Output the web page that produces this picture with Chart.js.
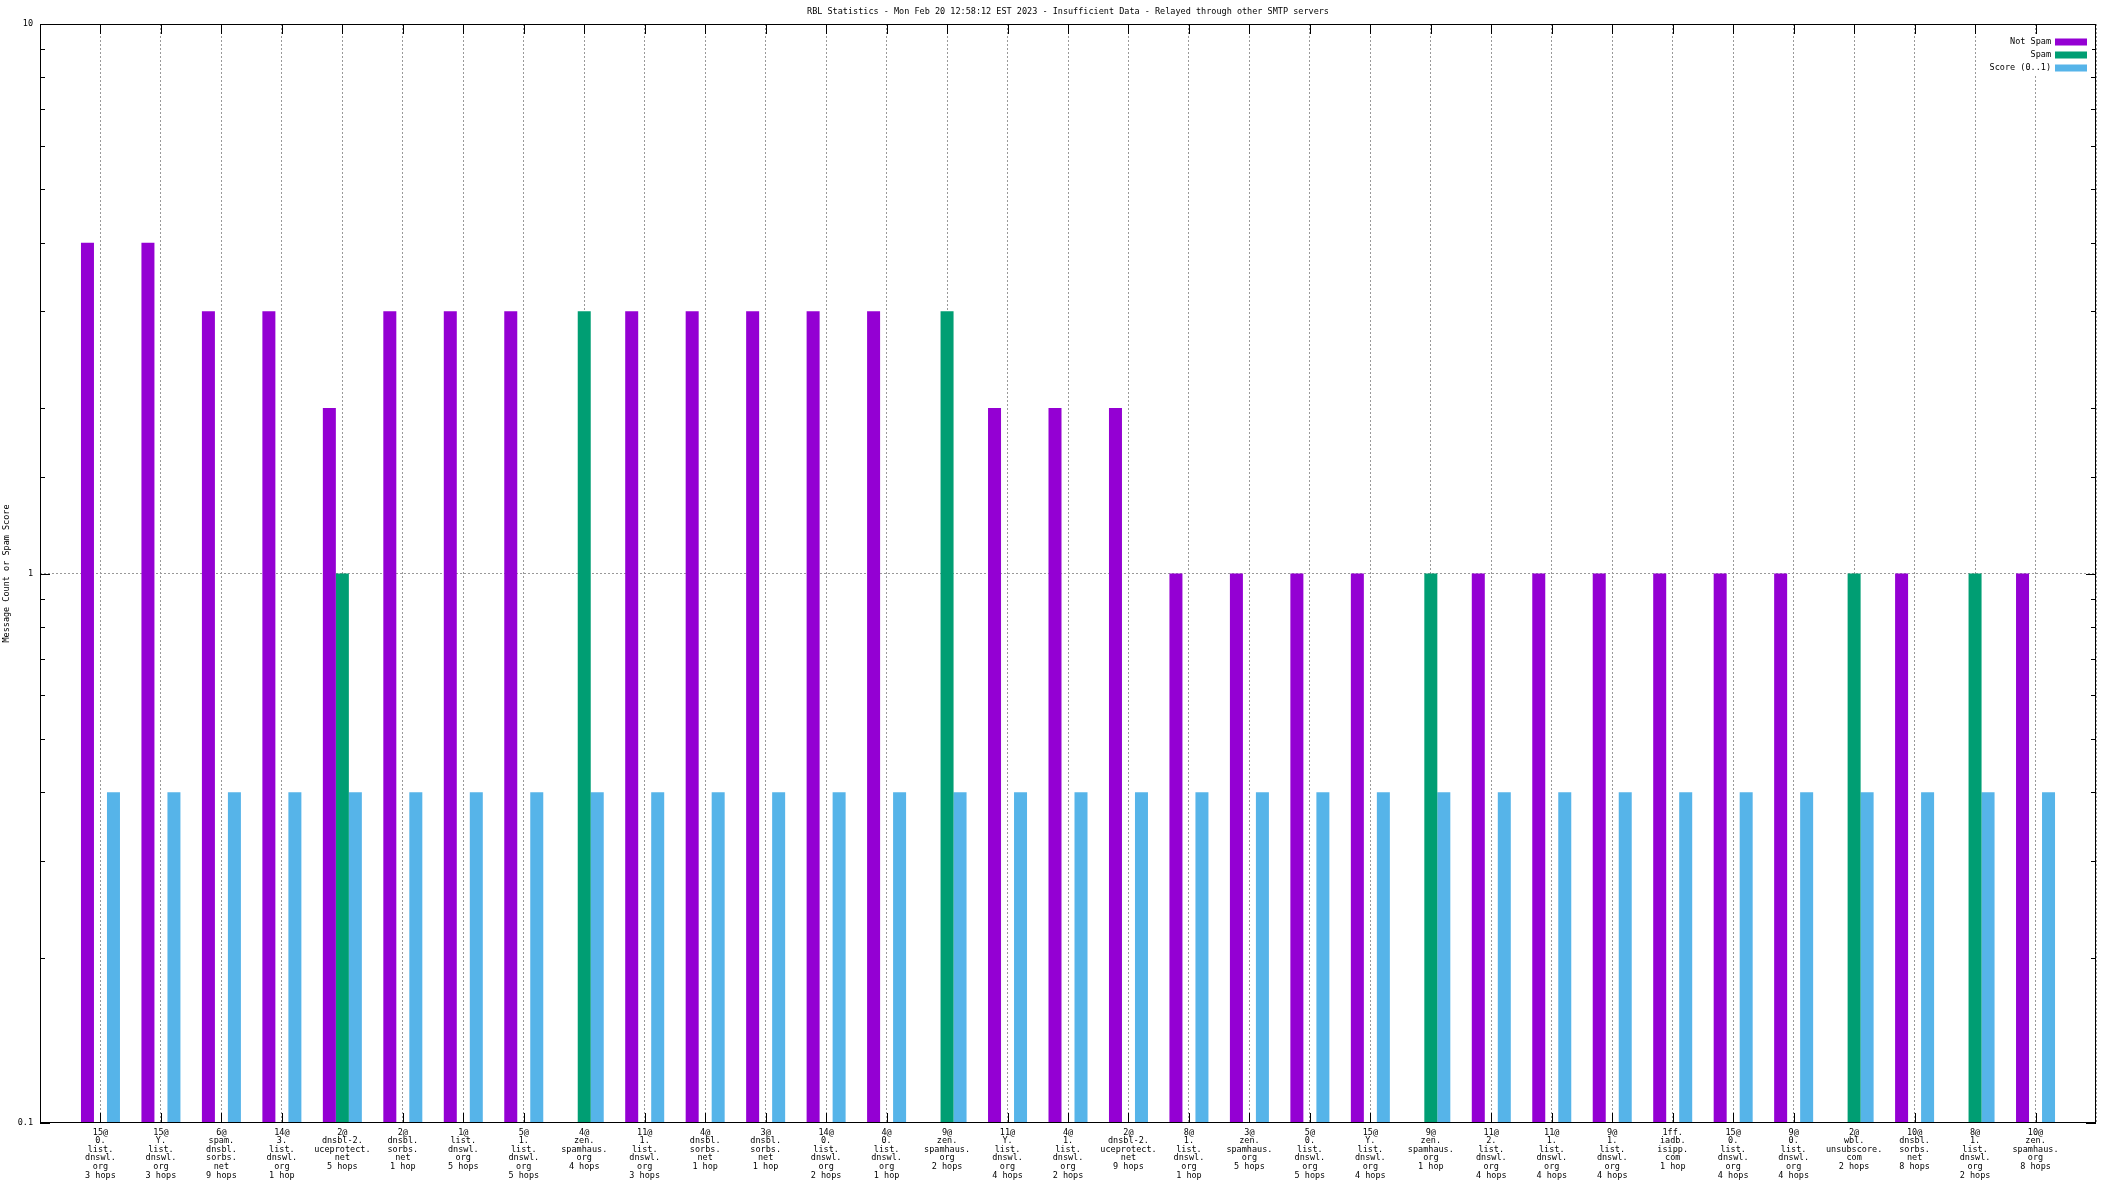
<!DOCTYPE html>
<html>
<head>
<meta charset="utf-8">
<title>RBL Statistics</title>
<script src="https://cdn.jsdelivr.net/npm/chart.js@4.4.1/dist/chart.umd.min.js"></script>
<style>
  html, body { margin: 0; padding: 0; background: #fff; }
  canvas { display: block; }
</style>
</head>
<body>
<canvas id="rblChart" width="2112" height="1188"></canvas>
<script>
const chartTitle = "RBL Statistics - Mon Feb 20 12:58:12 EST 2023 - Insufficient Data - Relayed through other SMTP servers";
const yAxisTitle = "Message Count or Spam Score";
const seriesNames = ["Not Spam", "Spam", "Score (0..1)"];
const color_palette = ["#9400d3", "#009e73", "#56b4e9"];
const yTickLabels = [0.1, 1, 10];

// x labels, one per rbl/hop count, split the way gnuplot printed them
const categories = [
  ["15@", "0.", "list.", "dnswl.", "org", "3 hops"],
  ["15@", "Y.", "list.", "dnswl.", "org", "3 hops"],
  ["6@", "spam.", "dnsbl.", "sorbs.", "net", "9 hops"],
  ["14@", "3.", "list.", "dnswl.", "org", "1 hop"],
  ["2@", "dnsbl-2.", "uceprotect.", "net", "5 hops"],
  ["2@", "dnsbl.", "sorbs.", "net", "1 hop"],
  ["1@", "list.", "dnswl.", "org", "5 hops"],
  ["5@", "1.", "list.", "dnswl.", "org", "5 hops"],
  ["4@", "zen.", "spamhaus.", "org", "4 hops"],
  ["11@", "1.", "list.", "dnswl.", "org", "3 hops"],
  ["4@", "dnsbl.", "sorbs.", "net", "1 hop"],
  ["3@", "dnsbl.", "sorbs.", "net", "1 hop"],
  ["14@", "0.", "list.", "dnswl.", "org", "2 hops"],
  ["4@", "0.", "list.", "dnswl.", "org", "1 hop"],
  ["9@", "zen.", "spamhaus.", "org", "2 hops"],
  ["11@", "Y.", "list.", "dnswl.", "org", "4 hops"],
  ["4@", "1.", "list.", "dnswl.", "org", "2 hops"],
  ["2@", "dnsbl-2.", "uceprotect.", "net", "9 hops"],
  ["8@", "1.", "list.", "dnswl.", "org", "1 hop"],
  ["3@", "zen.", "spamhaus.", "org", "5 hops"],
  ["5@", "0.", "list.", "dnswl.", "org", "5 hops"],
  ["15@", "Y.", "list.", "dnswl.", "org", "4 hops"],
  ["9@", "zen.", "spamhaus.", "org", "1 hop"],
  ["11@", "2.", "list.", "dnswl.", "org", "4 hops"],
  ["11@", "1.", "list.", "dnswl.", "org", "4 hops"],
  ["9@", "1.", "list.", "dnswl.", "org", "4 hops"],
  ["1ff.", "iadb.", "isipp.", "com", "1 hop"],
  ["15@", "0.", "list.", "dnswl.", "org", "4 hops"],
  ["9@", "0.", "list.", "dnswl.", "org", "4 hops"],
  ["2@", "wbl.", "unsubscore.", "com", "2 hops"],
  ["10@", "dnsbl.", "sorbs.", "net", "8 hops"],
  ["8@", "1.", "list.", "dnswl.", "org", "2 hops"],
  ["10@", "zen.", "spamhaus.", "org", "8 hops"]
];

// null = 0 messages (nothing to draw on a log axis)
const notSpam = [4, 4, 3, 3, 2, 3, 3, 3, null, 3, 3, 3, 3, 3, null, 2, 2,
                 2, 1, 1, 1, 1, null, 1, 1, 1, 1, 1, 1, null, 1, null, 1];
const spam = [null, null, null, null, 1, null, null, null, 3, null, null, null, null, null, 3, null, null,
              null, null, null, null, null, 1, null, null, null, null, null, null, 1, null, 1, null];
const score = [0.4, 0.4, 0.4, 0.4, 0.4, 0.4, 0.4, 0.4, 0.4, 0.4, 0.4, 0.4, 0.4, 0.4, 0.4, 0.4, 0.4,
               0.4, 0.4, 0.4, 0.4, 0.4, 0.4, 0.4, 0.4, 0.4, 0.4, 0.4, 0.4, 0.4, 0.4, 0.4, 0.4];

// gnuplot leaves one empty slot at each end of the x range
const pad = arr => [null].concat(arr, [null]);
const labels = [""].concat(categories, [""]);

const FONT = '"DejaVu Sans Mono", "Liberation Mono", monospace';
Chart.defaults.color = "#000";
Chart.defaults.font.family = FONT;
Chart.defaults.font.size = 8.5;

function isMajor(v) {
    return yTickLabels.some(t => Math.abs(t - v) < 1e-9);
}

// inward tics, frame, title and key the way gnuplot draws them
const gnuplotFrame = {
    id: "gnuplotFrame",
    beforeDatasetsDraw(chart) {
        const {ctx, chartArea: a, scales: {x, y}} = chart;
        ctx.save();
        ctx.strokeStyle = "#000";
        ctx.lineWidth = 1;
        ctx.beginPath();
        for (let i = 1; i <= categories.length; i++) {
            const px = Math.round(x.getPixelForTick(i)) + 0.5;
            ctx.moveTo(px, a.bottom); ctx.lineTo(px, a.bottom - 10);
            ctx.moveTo(px, a.top); ctx.lineTo(px, a.top + 10);
        }
        y.ticks.forEach(t => {
            const py = Math.round(y.getPixelForValue(t.value)) + 0.5;
            const len = isMajor(t.value) ? 10 : 5;
            ctx.moveTo(a.left, py); ctx.lineTo(a.left + len, py);
            ctx.moveTo(a.right, py); ctx.lineTo(a.right - len, py);
        });
        ctx.stroke();
        ctx.restore();
    },
    afterDatasetsDraw(chart) {
        const {ctx, chartArea: a} = chart;
        ctx.save();
        ctx.strokeStyle = "#000";
        ctx.lineWidth = 1;
        ctx.strokeRect(a.left + 0.5, a.top + 0.5, a.right - a.left - 1, a.bottom - a.top - 1);

        ctx.font = "8.5px " + FONT;
        ctx.fillStyle = "#000";
        ctx.textAlign = "center";
        ctx.textBaseline = "middle";
        ctx.fillText(chartTitle, (a.left + a.right) / 2, 12);

        // key, top right, opaque
        ctx.fillStyle = "#fff";
        ctx.fillRect(a.right - 96, a.top + 11, 92, 40);
        ctx.textAlign = "right";
        chart.data.datasets.forEach((ds, i) => {
            const cy = a.top + 18 + i * 13;
            ctx.fillStyle = "#000";
            ctx.fillText(ds.label, a.right - 45, cy);
            ctx.fillStyle = ds.backgroundColor;
            ctx.fillRect(a.right - 41, cy - 3.5, 32, 7);
        });
        ctx.restore();
    }
};

function plotRblChart() {
    const ctx = document.getElementById("rblChart").getContext("2d");
    const series = [notSpam, spam, score];
    return new Chart(ctx, {
        type: "bar",
        data: {
            labels: labels,
            datasets: series.map((s, i) => ({
                label: seriesNames[i],
                data: pad(s),
                backgroundColor: color_palette[i],
                borderWidth: 0,
                categoryPercentage: 0.645,
                barPercentage: 1.0
            }))
        },
        options: {
            responsive: false,
            animation: false,
            devicePixelRatio: 1,
            layout: { padding: { top: 24, right: 16, bottom: 0, left: 0 } },
            plugins: {
                legend: { display: false },
                title: { display: false },
                tooltip: { enabled: false }
            },
            scales: {
                x: {
                    type: "category",
                    offset: false,
                    afterFit: s => { s.height = 65; },
                    grid: { offset: false, color: "#999999", lineWidth: 1, drawTicks: false },
                    border: { display: false, dash: [2, 2] },
                    ticks: {
                        autoSkip: false,
                        maxRotation: 0,
                        minRotation: 0,
                        padding: 5,
                        font: { size: 8.5, lineHeight: "8.6px" }
                    }
                },
                y: {
                    type: "logarithmic",
                    min: 0.1,
                    max: 10,
                    afterFit: s => { s.width = 40; },
                    grid: {
                        drawTicks: false,
                        lineWidth: 1,
                        color: c => (c.tick && Math.abs(c.tick.value - 1) < 1e-9) ? "#999999" : "rgba(0,0,0,0)"
                    },
                    border: { display: false, dash: [2, 2] },
                    ticks: {
                        autoSkip: false,
                        padding: 7,
                        font: { size: 8.5 },
                        callback: v => isMajor(v) ? String(v) : ""
                    },
                    title: {
                        display: true,
                        text: yAxisTitle,
                        font: { size: 8.5 },
                        padding: { top: 2, bottom: 0 }
                    }
                }
            }
        },
        plugins: [gnuplotFrame]
    });
}

plotRblChart();
</script>
</body>
</html>
